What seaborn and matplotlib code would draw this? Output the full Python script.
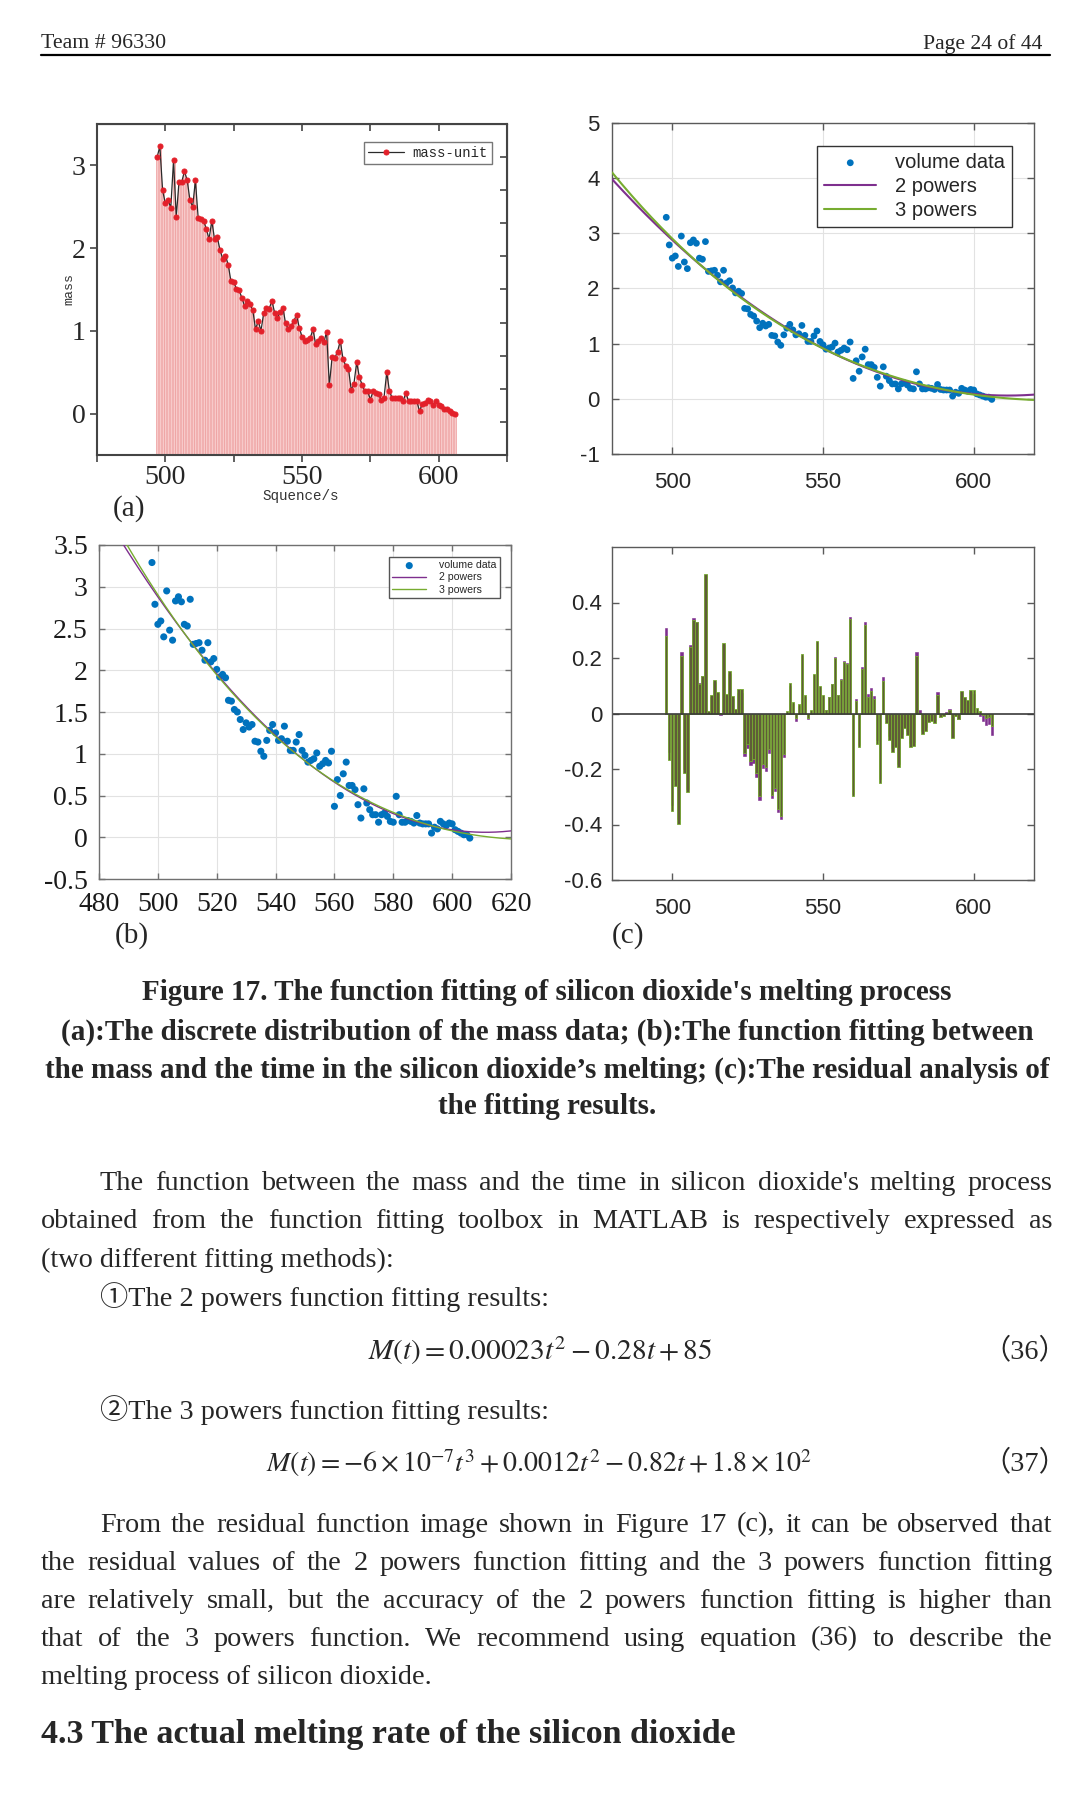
import numpy as np
import pandas as pd
import matplotlib
matplotlib.use("Agg")
import matplotlib.pyplot as plt
from matplotlib.lines import Line2D
import seaborn as sns

sns.set_style("white")
plt.rcParams['font.family'] = ['Liberation Serif', 'Noto Sans CJK SC', 'DejaVu Sans']
plt.rcParams['mathtext.fontset'] = 'stix'
plt.rcParams['axes.unicode_minus'] = False

W, H = 1080, 1793

# ---- data ----
# (a) mass per second, t = 497 ... 606
t_mass = np.arange(497, 607)
mass = [3.10, 3.23, 2.70, 2.54, 2.58, 2.49, 3.06, 2.38, 2.80, 2.80,
        2.93, 2.82, 2.58, 2.50, 2.82, 2.37, 2.35, 2.33, 2.23, 2.11,
        2.33, 2.11, 2.13, 1.98, 1.87, 1.91, 1.80, 1.60, 1.59, 1.51,
        1.49, 1.40, 1.30, 1.36, 1.32, 1.25, 1.02, 1.12, 1.00, 1.22,
        1.28, 1.27, 1.36, 1.22, 1.16, 1.23, 1.28, 1.09, 1.02, 1.06,
        1.12, 1.19, 1.04, 0.93, 0.88, 0.89, 0.91, 1.02, 0.84, 0.88,
        0.91, 0.86, 0.99, 0.34, 0.68, 0.67, 0.75, 0.88, 0.66, 0.58,
        0.54, 0.29, 0.36, 0.62, 0.44, 0.35, 0.27, 0.27, 0.17, 0.27,
        0.25, 0.24, 0.16, 0.19, 0.50, 0.27, 0.19, 0.19, 0.19, 0.19,
        0.15, 0.25, 0.15, 0.15, 0.15, 0.15, 0.03, 0.12, 0.13, 0.16,
        0.15, 0.11, 0.15, 0.11, 0.09, 0.06, 0.05, 0.03, 0.01, 0.00]

# (b) volume data, t = 498 ... 606
t_vol = np.arange(498, 607)
volume = [3.29, 2.79, 2.55, 2.59, 2.40, 2.95, 2.48, 2.36, 2.83, 2.88,
          2.82, 2.55, 2.53, 2.85, 2.31, 2.32, 2.33, 2.24, 2.12, 2.33,
          2.10, 2.14, 2.01, 1.92, 1.95, 1.91, 1.64, 1.63, 1.53, 1.50,
          1.41, 1.29, 1.37, 1.32, 1.35, 1.15, 1.14, 1.03, 0.97, 1.16,
          1.28, 1.35, 1.25, 1.16, 1.18, 1.33, 1.15, 1.04, 1.04, 1.14,
          1.23, 1.04, 0.98, 0.90, 0.92, 0.94, 1.01, 0.85, 0.88, 0.92,
          0.89, 1.03, 0.37, 0.69, 0.50, 0.76, 0.90, 0.62, 0.62, 0.57,
          0.39, 0.23, 0.58, 0.41, 0.33, 0.27, 0.27, 0.18, 0.27, 0.29,
          0.25, 0.19, 0.18, 0.49, 0.27, 0.18, 0.18, 0.20, 0.19, 0.17,
          0.26, 0.17, 0.16, 0.16, 0.16, 0.05, 0.12, 0.10, 0.19, 0.16,
          0.14, 0.17, 0.16, 0.09, 0.07, 0.05, 0.03, 0.03, -0.01]

df_a = pd.DataFrame({'t': t_mass, 'mass': mass})
df_b = pd.DataFrame({'t': t_vol, 'volume': volume})

# polynomial fits (2 and 3 powers) and residuals
p2 = np.polynomial.Polynomial.fit(df_b.t, df_b.volume, 2)
p3 = np.polynomial.Polynomial.fit(df_b.t, df_b.volume, 3)
tt = np.linspace(480, 620, 300)
df_b['r2'] = df_b.volume - p2(df_b.t)
df_b['r3'] = df_b.volume - p3(df_b.t)

PURPLE = '#7E2F8E'
GREEN = '#77AC30'
BLUE = '#0072BD'

fig = plt.figure(figsize=(W / 100, H / 100), dpi=100)
renderer = fig.canvas.get_renderer()


def box(l, t, r, b):
    return [l / W, 1 - b / H, (r - l) / W, (b - t) / H]


def put(x, y, s, size=18, width=None, ha='left', **kw):
    txt = fig.text(x / W, 1 - y / H, s, fontsize=size, ha=ha, va='center', **kw)
    if width:
        w = txt.get_window_extent(renderer).width
        txt.set_fontsize(size * width / w)
    return txt


def fit_size(s, width, size=18, **kw):
    txt = fig.text(0, 0, s, fontsize=size, **kw)
    w = txt.get_window_extent(renderer).width
    txt.remove()
    return size * width / w


def justify(s, x0, x1, y, size, **kw):
    words = s.split()
    texts = [fig.text(0, 1 - y / H, w, fontsize=size, va='center', **kw) for w in words]
    widths = [t.get_window_extent(renderer).width for t in texts]
    gap = (x1 - x0 - sum(widths)) / (len(words) - 1)
    x = x0
    for t, w in zip(texts, widths):
        t.set_x(x / W)
        x += w + gap


def matlab_box(ax, color='#5a5a5a'):
    for sp in ax.spines.values():
        sp.set_color(color)
        sp.set_linewidth(1.0)


# ---------------- (a) ----------------
axa = fig.add_axes(box(97, 124, 507, 455))
axa.bar(df_a.t, df_a.mass + 0.5, bottom=-0.5, width=0.72,
        color='#f7caca', edgecolor='#ee9c9c', linewidth=0.5)
sns.lineplot(data=df_a, x='t', y='mass', ax=axa, color='#2a2a2a', lw=0.9,
             marker='o', markersize=3.6, markerfacecolor='#e3202a',
             markeredgecolor='#e3202a', label='mass-unit')
axa.set_xlim(475, 625)
axa.set_ylim(-0.5, 3.5)
axa.set_xticks([500, 550, 600])
axa.set_xticks([475, 525, 575, 625], minor=True)
axa.set_yticks([0, 1, 2, 3])
axa.set_xlabel('')
axa.set_ylabel('')
axa.tick_params(which='both', direction='out', length=5, width=1.2, color='#444444',
                labelsize=20, pad=2, bottom=True, left=True)
axa.tick_params(axis='y', pad=3)
for sp in axa.spines.values():
    sp.set_color('#444444')
    sp.set_linewidth(1.5)
sec_top = axa.secondary_xaxis('top')
sec_top.set_xticks([475, 500, 525, 550, 575, 600, 625])
sec_top.set_xticklabels([])
sec_top.tick_params(direction='in', length=5, width=1.2, color='#444444')
sec_right = axa.secondary_yaxis('right')
sec_right.set_yticks([-0.1, 0.3, 0.7, 1.1, 1.5, 1.9, 2.3, 2.7, 3.1])
sec_right.set_yticklabels([])
sec_right.tick_params(direction='in', length=5, width=1.2, color='#444444')
axa.legend(loc='upper right', bbox_to_anchor=(0.963, 0.9465), borderaxespad=0,
           prop={'family': 'Liberation Mono', 'size': 10}, frameon=True,
           fancybox=False, edgecolor='#555555', handlelength=2.6,
           borderpad=0.3, handletextpad=0.6)
put(301, 496, 'Squence/s', size=10.3, ha='center', family='Liberation Mono', color='#333333')
put(69, 289, 'mass', size=9.5, ha='center', family='Liberation Mono', color='#333333',
    rotation=90)
put(129, 509, '(a)', size=21, ha='center')

# ---------------- top right ----------------
axr = fig.add_axes(box(612, 123, 1034, 454))
sns.scatterplot(data=df_b, x='t', y='volume', ax=axr, color=BLUE, s=24,
                edgecolor='none', label='volume data', zorder=3)
sns.lineplot(x=tt, y=p2(tt), ax=axr, color=PURPLE, lw=1.5, label='2 powers', zorder=4)
sns.lineplot(x=tt, y=p3(tt), ax=axr, color=GREEN, lw=1.5, label='3 powers', zorder=4)
axr.set_xlim(480, 620)
axr.set_ylim(-1, 5)
axr.set_xticks([500, 550, 600])
axr.set_yticks([-1, 0, 1, 2, 3, 4, 5])
axr.set_xlabel('')
axr.set_ylabel('')
axr.grid(True, color='#e2e2e2', lw=0.8)
matlab_box(axr)
axr.tick_params(direction='in', length=5, width=1, color='#5a5a5a', top=True, right=True,
                bottom=True, left=True, labelsize=16, labelcolor='#262626',
                labelfontfamily='Liberation Sans')
axr.tick_params(axis='x', pad=13)
axr.tick_params(axis='y', pad=9)
axr.legend(loc='upper right', bbox_to_anchor=(0.947, 0.9305), borderaxespad=0,
           prop={'family': 'Liberation Sans', 'size': 14.5}, frameon=True,
           fancybox=False, edgecolor='#333333', framealpha=1, handlelength=2.6,
           borderpad=0.35, labelspacing=0.25, handletextpad=0.9)

# ---------------- (b) ----------------
axb = fig.add_axes(box(99, 545, 511, 879))
sns.scatterplot(data=df_b, x='t', y='volume', ax=axb, color=BLUE, s=26,
                edgecolor='none', label='volume data', zorder=3)
sns.lineplot(x=tt, y=p2(tt), ax=axb, color=PURPLE, lw=1.0, label='2 powers', zorder=4)
sns.lineplot(x=tt, y=p3(tt), ax=axb, color=GREEN, lw=1.0, label='3 powers', zorder=4)
axb.set_xlim(480, 620)
axb.set_ylim(-0.5, 3.5)
axb.set_xticks(np.arange(480, 621, 20))
axb.set_yticks(np.arange(-0.5, 3.51, 0.5))
axb.set_yticklabels(['%g' % v for v in np.arange(-0.5, 3.51, 0.5)])
axb.set_xlabel('')
axb.set_ylabel('')
axb.grid(True, color='#e2e2e2', lw=0.8)
matlab_box(axb, '#707070')
axb.tick_params(direction='in', length=4, width=1, color='#707070', top=True, right=True,
                bottom=True, left=True, labelsize=20, labelcolor='#1a1a1a')
axb.tick_params(axis='x', pad=9)
axb.tick_params(axis='y', pad=8)
axb.legend(loc='upper right', bbox_to_anchor=(0.973, 0.965), borderaxespad=0,
           prop={'family': 'Liberation Sans', 'size': 7.6}, frameon=True,
           fancybox=False, edgecolor='#555555', framealpha=1, handlelength=3.2,
           borderpad=0.35, labelspacing=0.2, handletextpad=1.2)
put(132, 936, '(b)', size=21, ha='center')

# ---------------- (c) ----------------
axc = fig.add_axes(box(612, 547, 1034, 880))
axc.bar(df_b.t, df_b.r2, width=0.8, color=PURPLE, edgecolor=PURPLE, linewidth=0.4)
axc.bar(df_b.t, df_b.r3, width=0.8, color='#5f5c38', edgecolor=GREEN, linewidth=0.6)
axc.axhline(0, color='#3a3a3a', lw=1.2)
axc.set_xlim(480, 620)
axc.set_ylim(-0.6, 0.6)
axc.set_xticks([500, 550, 600])
axc.set_yticks([-0.6, -0.4, -0.2, 0, 0.2, 0.4])
axc.set_yticklabels(['%g' % v for v in [-0.6, -0.4, -0.2, 0, 0.2, 0.4]])
matlab_box(axc)
axc.tick_params(direction='in', length=5, width=1, color='#5a5a5a', top=True, right=True,
                bottom=True, left=True, labelsize=16, labelcolor='#262626',
                labelfontfamily='Liberation Sans')
axc.tick_params(axis='x', pad=13)
axc.tick_params(axis='y', pad=7)
put(628, 936, '(c)', size=21, ha='center')

# ---------------- page text ----------------
put(41, 44, 'Team # 96330', width=125)
put(1042, 44, 'Page 24 of 44', width=120, ha='right')
fig.add_artist(Line2D([41 / W, 1050 / W], [1 - 55 / H, 1 - 55 / H], color='black', lw=1.6))

cap = ["Figure 17. The function fitting of silicon dioxide's melting process",
       "(a):The discrete distribution of the mass data; (b):The function fitting between",
       "the mass and the time in the silicon dioxide\u2019s melting; (c):The residual analysis of",
       "the fitting results."]
cap_w = [810, 976, 1009, 217]
cap_y = [993, 1032, 1070, 1107]
cap_size = np.mean([fit_size(s, w, weight='bold') for s, w in zip(cap, cap_w)])
for s, y in zip(cap, cap_y):
    put(547, y, s, size=cap_size, ha='center', weight='bold')

body_size = np.mean([fit_size('(two different fitting methods):', 344),
                     fit_size('melting process of silicon dioxide.', 400)])
L, R, IND = 41, 1052, 100

justify("The function between the mass and the time in silicon dioxide's melting process",
        IND, R, 1184, body_size)
justify("obtained from the function fitting toolbox in MATLAB is respectively expressed as",
        L, R, 1222, body_size)
put(L, 1260, '(two different fitting methods):', size=body_size)
put(IND, 1297, '\u2460The 2 powers function fitting results:', size=body_size)
put(540, 1351, r'$M\left(t\right)=0.00023t^{2}-0.28t+85$', width=344, ha='center')
put(1067, 1351, '\uff0836\uff09', size=body_size, ha='right')
put(IND, 1410, '\u2461The 3 powers function fitting results:', size=body_size)
put(539, 1463, r'$M\left(t\right)=-6\times10^{-7}t^{3}+0.0012t^{2}-0.82t+1.8\times10^{2}$',
    width=547, ha='center')
put(1067, 1463, '\uff0837\uff09', size=body_size, ha='right')

justify("From the residual function image shown in Figure 17 (c), it can be observed that",
        IND, R, 1525, body_size)
justify("the residual values of the 2 powers function fitting and the 3 powers function fitting",
        L, R, 1564, body_size)
justify("are relatively small, but the accuracy of the 2 powers function fitting is higher than",
        L, R, 1601, body_size)
justify("that of the 3 powers function. We recommend using equation (36) to describe the",
        L, R, 1639, body_size)
put(L, 1677, 'melting process of silicon dioxide.', size=body_size)

put(41, 1734, '4.3 The actual melting rate of the silicon dioxide', width=696, weight='bold')

fig.savefig('out.png', dpi=100)
